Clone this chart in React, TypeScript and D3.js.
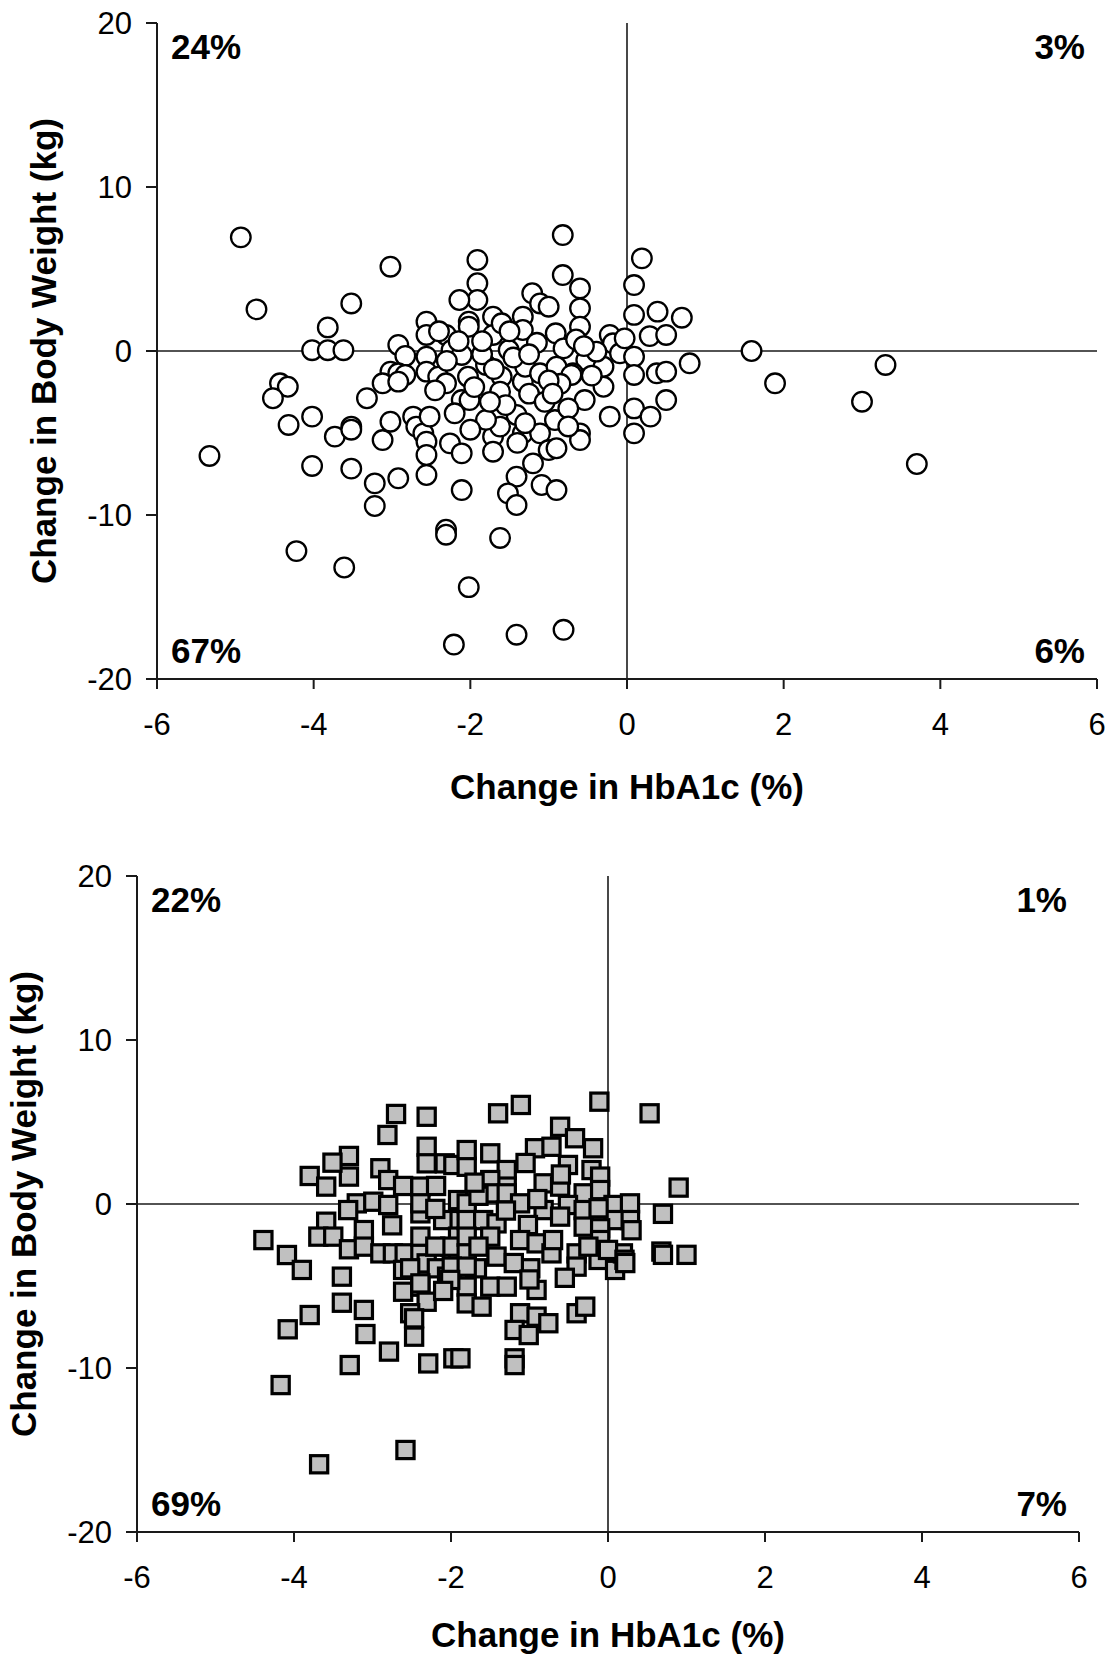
import React from "react";
import * as d3 from "d3";

// ---------- data ----------
const xTicks = [-6, -4, -2, 0, 2, 4, 6];
const yTicks = [-20, -10, 0, 10, 20];
const xTitle = "Change in HbA1c (%)";
const yTitle = "Change in Body Weight (kg)";

const topQuadrants = ["24%", "3%", "67%", "6%"]; // TL, TR, BL, BR
const bottomQuadrants = ["22%", "1%", "69%", "7%"];

const circlePoints: [number, number][] = [
  [-4.93, 6.93], [-3.02, 5.14], [-4.73, 2.54], [-3.52, 2.9], [-3.82, 1.44], [-4.02, 0.05], [-3.82, 0.05], [-3.62, 0.05],
  [-2.92, 0.37], [-2.83, -0.3], [-3.02, -1.26], [-2.92, -1.36], [-2.83, -1.46], [-3.12, -1.97], [-2.92, -1.87],
  [-2.56, 1.79], [-2.56, 0.98], [-2.56, -0.35], [-2.56, -1.26],
  [-4.43, -1.97], [-4.33, -2.18], [-4.52, -2.88], [-3.32, -2.88], [-4.32, -4.51], [-4.02, -4.0],
  [-3.73, -5.22], [-3.52, -4.61], [-3.52, -4.8], [-3.12, -5.43], [-3.02, -4.31],
  [-2.73, -4.0], [-2.69, -4.61], [-2.6, -5.02], [-2.56, -5.53], [-2.56, -6.34],
  [-5.33, -6.4], [-4.02, -7.01], [-3.52, -7.17], [-3.22, -8.07], [-2.92, -7.76], [-3.22, -9.45], [-2.56, -7.56],
  [-4.22, -12.2], [-3.61, -13.2],
  [-0.82, 7.07], [-1.91, 5.55], [-1.91, 4.13], [-1.91, 3.11], [-2.14, 3.11], [-0.82, 4.63], [-0.6, 3.82], [-0.6, 2.6],
  [-0.6, 1.48], [-1.21, 3.52], [-1.11, 2.9], [-1.0, 2.7],
  [-2.31, 0.98], [-2.02, 1.79], [-2.02, 1.48], [-1.71, 2.09], [-1.71, 0.98], [-1.6, 1.69], [-1.33, 2.09], [-1.33, 1.28],
  [-0.91, 1.08], [-0.81, 0.16], [-0.22, 0.98], [-0.18, 0.47], [-0.52, -0.55], [-0.3, -0.96], [-0.09, -0.14],
  [-2.41, -1.57], [-2.31, -1.97], [-2.24, 0.06], [-2.11, -0.24], [-2.03, -1.57], [-2.11, -2.99], [-2.01, -2.99],
  [-1.8, -0.85], [-1.51, 0.06], [-1.6, -1.57], [-1.62, -2.48], [-1.33, -1.87], [-1.3, -0.96], [-1.11, -1.36],
  [-0.69, -1.36], [-0.39, -0.04], [-0.3, -2.18], [-0.54, -2.99], [-0.22, -4.0], [-0.9, -0.96],
  [-2.52, -4.0], [-2.26, -5.63], [-2.11, -6.24], [-2.11, -8.48],
  [-1.71, -5.22], [-1.62, -4.61], [-1.41, -3.9], [-1.33, -5.02], [-1.11, -5.02], [-1.71, -6.14], [-1.0, -6.04],
  [-0.92, -4.21], [-0.6, -5.02], [-1.2, -6.85], [-1.41, -7.66], [-1.09, -8.17], [-0.9, -8.48], [-1.52, -8.68], [-1.41, -9.39],
  [0.19, 5.65], [0.09, 4.02], [0.09, 2.2], [0.39, 2.4], [0.7, 2.03], [0.29, 0.91], [0.5, 0.98], [-0.03, 0.77],
  [0.09, -0.35], [0.09, -1.46], [0.38, -1.36], [0.5, -1.26], [0.8, -0.75],
  [-0.71, -1.46], [0.09, -3.5], [0.3, -4.0], [0.5, -2.99], [0.09, -5.02],
  [1.59, 0.0], [1.89, -1.97], [3.3, -0.85], [3.0, -3.09], [3.7, -6.89],
  [-2.31, -10.9], [-2.31, -11.2], [-1.62, -11.4], [-2.02, -14.4], [-2.21, -17.9], [-1.41, -17.3], [-0.81, -17.0],
  [-0.9, -5.93], [-0.6, -5.43],
  [-1.85, -0.2], [-1.7, -1.1], [-1.45, -0.4], [-1.25, -2.6], [-1.05, -3.1], [-0.85, -2.0], [-1.55, -3.3],
  [-1.95, -2.2], [-2.3, -0.6], [-1.15, 0.5], [-0.65, 0.7], [-1.0, -1.8], [-0.75, -3.5], [-1.8, -4.2],
  [-1.3, -4.4], [-2.0, -4.8], [-2.2, -3.8], [-1.5, 1.2], [-0.45, -1.5], [-2.4, 1.2], [-1.85, 0.6],
  [-2.15, 0.6], [-1.25, -0.2], [-0.95, -2.6], [-1.75, -3.1], [-0.55, 0.3], [-2.45, -2.4], [-1.4, -5.6], [-0.75, -4.6],
];

const squarePoints: [number, number][] = [
  [-2.7, 5.49], [-2.31, 5.32], [-2.81, 4.21], [-3.3, 2.93], [-3.3, 1.67], [-3.51, 2.52], [-3.8, 1.71], [-3.59, 1.06],
  [-2.9, 2.18], [-2.8, 1.46], [-2.31, 3.49], [-2.31, 2.48], [-2.08, 2.48], [-1.97, 2.38], [-1.8, 2.27], [-1.8, 3.29],
  [-2.61, 1.1], [-2.39, 1.06], [-2.19, 1.1],
  [-3.2, 0.04], [-3.31, -0.37], [-2.99, 0.14], [-2.8, -0.06], [-2.39, -0.57], [-2.39, 0.04], [-2.1, -0.98], [-1.89, -0.98],
  [-3.59, -1.08], [-3.69, -1.99], [-3.5, -1.99], [-3.11, -1.59], [-4.39, -2.2], [-4.09, -3.11], [-3.9, -4.02],
  [-3.3, -2.76], [-3.11, -2.6], [-2.9, -3.01], [-2.74, -3.01], [-2.59, -3.01], [-2.39, -3.01], [-2.39, -1.99],
  [-2.31, -3.62], [-2.18, -3.92], [-2.61, -4.02], [-2.61, -5.35], [-2.39, -5.04], [-2.31, -5.96], [-3.39, -4.43],
  [-3.39, -6.02], [-3.11, -6.46], [-3.8, -6.77],
  [-1.91, 0.24], [-1.91, -1.99], [-1.91, -3.01], [-1.91, -4.02], [-1.8, -5.04], [-1.8, -6.06], [-2.01, -2.6], [-2.05, -4.43],
  [-1.4, 5.53], [-1.11, 6.04], [-0.11, 6.24], [0.53, 5.53], [-1.5, 3.09], [-1.29, 2.07], [-1.29, 1.06],
  [-0.61, 4.71], [-0.42, 4.01], [-0.19, 3.4], [-0.93, 3.4], [-0.72, 3.49], [-0.51, 2.38], [-0.21, 2.07], [-0.1, 1.67],
  [-1.8, 0.04], [-1.5, 1.46], [-1.5, 0.65], [-1.29, 0.65], [-0.82, 1.26], [-0.61, 1.06], [-0.31, 0.65], [-0.1, 0.85],
  [0.07, -0.06], [0.28, 0.04], [0.28, -0.98], [0.07, -0.98],
  [-1.12, 0.04], [-0.82, -0.37], [-0.51, -0.06], [-0.31, -0.37], [-0.12, -0.26], [-0.31, -1.38], [-0.1, -1.48], [-0.61, -0.77],
  [-1.8, -0.98], [-1.59, -0.98], [-1.42, -1.18], [-1.02, -1.28], [-1.12, -2.2], [-0.91, -2.4],
  [-1.8, -1.99], [-1.5, -1.99], [-1.8, -3.01], [-1.42, -3.21], [-1.67, -3.92], [-1.5, -5.04], [-1.29, -5.04], [-1.61, -6.26],
  [-0.99, -3.92], [-0.91, -5.24], [-0.72, -3.01], [-0.4, -3.01], [-0.4, -3.82], [-0.12, -3.41], [0.09, -4.02], [0.19, -3.01],
  [-0.1, -2.2], [0.0, -2.8],
  [-2.52, -3.92], [-2.39, -4.84], [-2.52, -6.66], [-1.99, -3.82], [-1.8, -3.82], [-2.01, -4.63],
  [-1.12, -6.66], [-0.91, -6.87], [-0.4, -6.66], [-0.29, -6.26],
  [-4.08, -7.64], [-3.09, -7.93], [-2.47, -6.97], [-2.47, -8.09], [-2.79, -9.0], [-3.29, -9.82], [-2.29, -9.72],
  [-1.97, -9.41], [-1.88, -9.41], [-1.19, -7.68], [-1.19, -9.41], [-1.19, -9.82], [-1.01, -7.99], [-0.76, -7.27],
  [-4.17, -11.04], [-2.58, -15.0], [-3.68, -15.87],
  [0.9, 1.0], [0.7, -0.6], [0.68, -2.9], [0.7, -3.1], [1.0, -3.1], [0.3, -1.6], [0.21, -3.4], [0.22, -3.6],
  [-2.2, -0.3], [-1.65, 0.5], [-1.3, -0.4], [-0.9, 0.3], [-1.65, -2.6], [-1.2, -3.6], [-0.7, -2.2], [-0.55, -4.5],
  [-1.0, -4.6], [-2.2, -2.6], [-2.75, -1.3], [-2.1, -5.3], [-0.25, -2.6], [-0.6, 1.8], [-1.05, 2.5], [-1.7, 1.3],
];

// ---------- chart ----------
const FONT = "'Liberation Sans', Arial, sans-serif";

type PanelProps = {
  left: number;
  right: number;
  top: number;
  bottom: number;
  points: [number, number][];
  shape: "circle" | "square";
  quadrants: string[];
  yTitleX: number;
  xTitleGap: number;
};

function Panel({ left, right, top, bottom, points, shape, quadrants, yTitleX, xTitleGap }: PanelProps) {
  const x = d3.scaleLinear().domain([-6, 6]).range([left, right]);
  const y = d3.scaleLinear().domain([-20, 20]).range([bottom, top]);
  const axisColor = "#1a1a1a";
  const side = 17.2;
  return (
    <g>
      {/* zero lines */}
      <line x1={x(-6)} x2={x(6)} y1={y(0)} y2={y(0)} stroke={axisColor} strokeWidth={1.6} />
      <line x1={x(0)} x2={x(0)} y1={y(20)} y2={y(-20)} stroke={axisColor} strokeWidth={1.6} />
      {/* y axis */}
      <line x1={x(-6)} x2={x(-6)} y1={y(20)} y2={y(-20)} stroke={axisColor} strokeWidth={2} />
      {yTicks.map((t) => (
        <g key={"yt" + t}>
          <line x1={x(-6) - 11} x2={x(-6)} y1={y(t)} y2={y(t)} stroke={axisColor} strokeWidth={2} />
          <text x={x(-6) - 25} y={y(t) + 11} textAnchor="end" fontSize={31} fontFamily={FONT} fill="#000">
            {t}
          </text>
        </g>
      ))}
      {/* x axis */}
      <line x1={x(-6)} x2={x(6)} y1={y(-20)} y2={y(-20)} stroke={axisColor} strokeWidth={2} />
      {xTicks.map((t) => (
        <g key={"xt" + t}>
          <line x1={x(t)} x2={x(t)} y1={y(-20)} y2={y(-20) + 10} stroke={axisColor} strokeWidth={2} />
          <text x={x(t)} y={y(-20) + 56} textAnchor="middle" fontSize={31} fontFamily={FONT} fill="#000">
            {t}
          </text>
        </g>
      ))}
      {/* markers */}
      {points.map(([px, py], i) =>
        shape === "circle" ? (
          <circle key={i} cx={x(px)} cy={y(py)} r={9.8} fill="#fff" stroke="#000" strokeWidth={2.3} />
        ) : (
          <rect
            key={i}
            x={x(px) - side / 2}
            y={y(py) - side / 2}
            width={side}
            height={side}
            fill="#c0c0c0"
            stroke="#000"
            strokeWidth={3.2}
          />
        )
      )}
      {/* quadrant labels */}
      <text x={x(-6) + 14} y={y(20) + 36} fontSize={35} fontWeight="bold" fontFamily={FONT}>{quadrants[0]}</text>
      <text x={x(6) - 12} y={y(20) + 36} textAnchor="end" fontSize={35} fontWeight="bold" fontFamily={FONT}>{quadrants[1]}</text>
      <text x={x(-6) + 14} y={y(-20) - 16} fontSize={35} fontWeight="bold" fontFamily={FONT}>{quadrants[2]}</text>
      <text x={x(6) - 12} y={y(-20) - 16} textAnchor="end" fontSize={35} fontWeight="bold" fontFamily={FONT}>{quadrants[3]}</text>
      {/* titles */}
      <text x={(x(-6) + x(6)) / 2} y={y(-20) + xTitleGap} textAnchor="middle" fontSize={35} fontWeight="bold" fontFamily={FONT}>
        {xTitle}
      </text>
      <text
        transform={`translate(${yTitleX},${y(0)}) rotate(-90)`}
        textAnchor="middle"
        fontSize={35}
        fontWeight="bold"
        fontFamily={FONT}
      >
        {yTitle}
      </text>
    </g>
  );
}

export default function App() {
  return (
    <div style={{ position: "absolute", left: 0, top: 0 }}>
      <svg width={1114} height={1659} viewBox="0 0 1114 1659" style={{ display: "block", background: "#fff" }}>
        <Panel left={157} right={1097} top={23} bottom={679} points={circlePoints} shape="circle" quadrants={topQuadrants} yTitleX={56} xTitleGap={120} />
        <Panel left={137} right={1079} top={876} bottom={1532} points={squarePoints} shape="square" quadrants={bottomQuadrants} yTitleX={36} xTitleGap={115} />
      </svg>
    </div>
  );
}
